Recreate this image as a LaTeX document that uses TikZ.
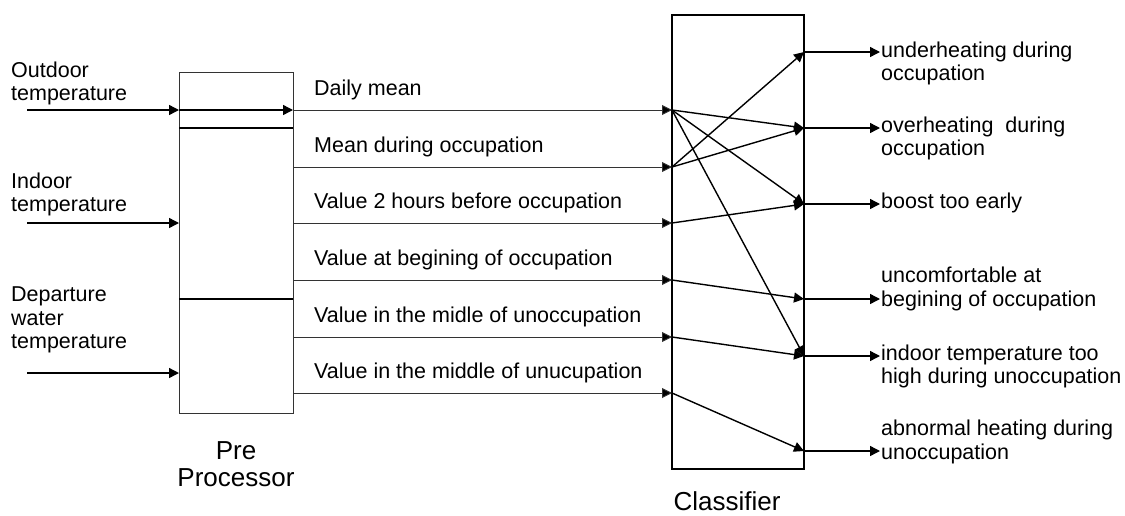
\documentclass[tikz,border=0pt]{standalone}
\usepackage{fontspec}
\setmainfont{Liberation Sans}
\usetikzlibrary{arrows.meta}
\tikzset{
  lab/.style={font=\fontsize{21.5}{23.5}\selectfont, inner sep=0pt, align=left},
  biglab/.style={font=\fontsize{26}{27}\selectfont, inner sep=0pt, align=center},
  thinbox/.style={draw=black!80, line width=0.9pt},
  thickbox/.style={draw=black, line width=1.6pt},
  arr/.style={line width=1.4pt, -{Triangle[length=10pt,width=10pt]}},
  thinarr/.style={draw=black!80, line width=0.9pt, -{Triangle[length=10pt,width=10pt,fill=black]}},
  divider/.style={line width=1.4pt}
}
\begin{document}
\begin{tikzpicture}[x=1pt,y=-1pt]
\useasboundingbox (0,0) rectangle (1125,515);

% boxes
\node[thinbox, minimum width=114pt, minimum height=341pt, inner sep=0pt] (pre) at (236,242.5) {};
\node[thickbox, minimum width=132pt, minimum height=454pt, inner sep=0pt] (cls) at (738,242) {};
\draw[divider] (179,128) -- (293,128);
\draw[divider] (179,299) -- (293,299);

% box labels
\node[biglab] (prelab) at (236,464) {Pre\\Processor};
\node[biglab, anchor=base] (clslab) at (727,510) {Classifier};

% inputs
\coordinate (s1) at (27,110);
\coordinate (s2) at (27,223);
\coordinate (s3) at (27,373);
\coordinate (p1) at (179,110);
\coordinate (p2) at (179,223);
\coordinate (p3) at (179,373);
\node[lab, anchor=west] (t1) at (11,83.5) {Outdoor\\temperature};
\node[lab, anchor=west] (t2) at (11,194.5) {Indoor\\temperature};
\node[lab, anchor=west] (t3) at (11,320.2) {Departure\\water\\temperature};
\draw[arr] (s1) -- (p1);
\draw[arr] (s2) -- (p2);
\draw[arr] (s3) -- (p3);
\coordinate (q0) at (293,110);
\draw[arr] (p1) -- (q0);

% preprocessor outputs
\foreach \i/\y/\t in {1/110/Daily mean,2/167/Mean during occupation,3/223/Value 2 hours before occupation,4/280/Value at begining of occupation,5/337/Value in the midle of unoccupation,6/393/Value in the middle of unucupation}{
  \coordinate (o\i) at (293,\y);
  \coordinate (c\i) at (672,\y);
  \node[lab, anchor=base west] (m\i) at (314,\y-15) {\t};
  \draw[thinarr] (o\i) -- (c\i);
}

% classifier outputs
\foreach \j/\y in {1/52,2/128,3/204,4/299,5/356,6/451}{
  \coordinate (r\j) at (804,\y);
  \coordinate (e\j) at (880,\y);
  \draw[arr] (r\j) -- (e\j);
}
\node[lab, anchor=west] (u1) at (881,63.5) {underheating during\\occupation};
\node[lab, anchor=west] (u2) at (881,138.5) {overheating\ \ during\\occupation};
\node[lab, anchor=west] (u3) at (881,202.7) {boost too early};
\node[lab, anchor=west] (u4) at (881,289) {uncomfortable at\\begining of occupation};
\node[lab, anchor=west] (u5) at (881,366.5) {indoor temperature too\\high during unoccupation};
\node[lab, anchor=west] (u6) at (881,442) {abnormal heating during\\unoccupation};

% classifier internal connections
\draw[arr] (c1) -- (r2);
\draw[arr] (c1) -- (r3);
\draw[arr] (c1) -- (r5);
\draw[arr] (c2) -- (r1);
\draw[arr] (c2) -- (r2);
\draw[arr] (c3) -- (r3);
\draw[arr] (c4) -- (r4);
\draw[arr] (c5) -- (r5);
\draw[arr] (c6) -- (r6);
\end{tikzpicture}
\end{document}
